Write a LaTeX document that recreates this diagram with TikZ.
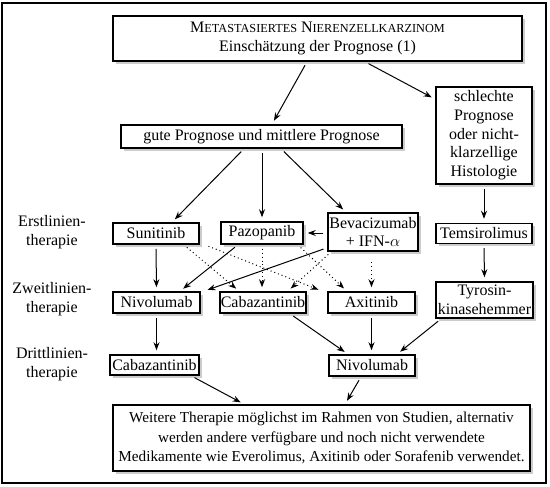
\documentclass[tikz,border=0pt]{standalone}
\usepackage{fontspec}
\setmainfont{Liberation Serif}
\usetikzlibrary{arrows.meta,calc,shadows}

\newcommand{\mysc}[2]{#1{\fontsize{9.2}{11}\selectfont #2}}

\begin{document}
\begin{tikzpicture}[x=0.75pt,y=-0.75pt,font=\fontsize{12}{14}\selectfont,
    box/.style={draw,line width=1.1pt,fill=white,inner sep=0pt,align=center,
      drop shadow={shadow xshift=2pt,shadow yshift=-2pt,opacity=0.4}},
    arr/.style={-{Stealth[length=6pt,width=4.5pt]},line width=0.75pt,shorten <=3pt,shorten >=3pt},
    dotarr/.style={arr,dash pattern=on 0.75pt off 2.2pt},
    rowlabel/.style={align=center}]
    \useasboundingbox (0,0) rectangle (550,486);
    \draw[line width=1.3pt] (2,3) rectangle (546,483);

    % prognosis
    \node[box,minimum width=306.8pt,minimum height=33.8pt] (title) at (317.5,38.5) {\mysc{M}{ETASTASIERTES} \mysc{N}{IERENZELLKARZINOM}\\Einschätzung der Prognose (1)};
    \node[box,minimum width=210.8pt,minimum height=17.3pt] (goodprog) at (261.5,136.5) {gute Prognose und mittlere Prognose};
    \node[box,minimum width=72pt,minimum height=72.8pt] (badprog) at (484,135.5) {schlechte\\Prognose\\oder nicht-\\klarzellige\\Histologie};

    % row labels
    \node[rowlabel] (lblfirst) at (52,232) {Erstlinien-\\therapie};
    \node[rowlabel] (lblsecond) at (52,299) {Zweitlinien-\\therapie};
    \node[rowlabel] (lblthird) at (52,364) {Drittlinien-\\therapie};

    % first line
    \node[box,minimum width=64.5pt,minimum height=15.8pt] (suni) at (156,233.5) {Sunitinib};
    \node[box,minimum width=61.5pt,minimum height=16.5pt] (pazo) at (262,233) {Pazopanib};
    \node[box,minimum width=67.5pt,minimum height=28.5pt] (beva) at (373,232) {Bevacizumab\\+ IFN-$\alpha$};
    \node[box,minimum width=72pt,minimum height=15pt] (temsi) at (484,233.5) {Temsirolimus};

    % second line
    \node[box,minimum width=65.3pt,minimum height=15.8pt] (nivo2) at (156.5,302.5) {Nivolumab};
    \node[box,minimum width=64.5pt,minimum height=15.8pt] (caba2) at (263,302.5) {Cabazantinib};
    \node[box,minimum width=65.3pt,minimum height=15.8pt] (axi) at (371.5,302.5) {Axitinib};
    \node[box,minimum width=72.8pt,minimum height=27pt] (tki) at (484.5,300) {Tyrosin-\\kinasehemmer};

    % third line
    \node[box,minimum width=66.8pt,minimum height=15pt] (caba3) at (154.5,365) {Cabazantinib};
    \node[box,minimum width=64.5pt,minimum height=15.8pt] (nivo3) at (372,365.5) {Nivolumab};

    \node[box,minimum width=312.8pt,minimum height=49.5pt,font=\fontsize{11.4}{14.5}\selectfont] (further) at (321.5,438) {Weitere Therapie möglichst im Rahmen von Studien, alternativ\\werden andere verfügbare und noch nicht verwendete\\Medikamente wie Everolimus, Axitinib oder Sorafenib verwendet.};

    % connectors
    \draw[arr] ($(title.south)+(-10.5,0)$) -- ($(goodprog.north)+(10.5,0)$);
    \draw[arr] ($(title.south)+(47.5,0)$) -- ($(badprog.north west)+(0,13)$);
    \draw[arr] ($(goodprog.south)+(-17.5,0)$) -- ($(suni.north)+(16,0)$);
    \draw[arr] (goodprog.south -| pazo.north) -- (pazo.north);
    \draw[arr] ($(goodprog.south)+(19.5,0)$) -- ($(beva.north)+(-27,0)$);
    \draw[arr] (badprog.south) -- (temsi.north);
    \draw[arr] (temsi.south) -- (tki.north);
    \draw[arr] (beva.west |- pazo.east) -- (pazo.east);

    \draw[arr] (suni.south) -- (nivo2.north);
    \draw[arr] ($(pazo.south)+(-24,0)$) -- ($(nivo2.north)+(23.5,0)$);
    \draw[arr] ($(beva.south west)+(0,-4)$) -- ($(nivo2.north east)+(3,0)$);
    \draw[dotarr] ($(suni.south east)+(-16,0)$) -- ($(caba2.north west)+(20,0)$);
    \draw[dotarr] ($(suni.south east)+(5,0)$) -- ($(axi.north west)+(-5,0)$);
    \draw[dotarr] (pazo.south) -- (pazo.south |- caba2.north);
    \draw[dotarr] ($(pazo.south east)+(-6,0)$) -- ($(axi.north)+(-24.5,0)$);
    \draw[dotarr] ($(beva.south west)+(4,0)$) -- ($(caba2.north east)+(-19,0)$);
    \draw[dotarr,shorten <=8pt] (beva.south -| axi.north) -- (axi.north);

    \draw[arr] (nivo2.south) -- (nivo2.south |- caba3.north);
    \draw[arr] ($(caba2.south)+(27,0)$) -- ($(nivo3.north)+(-24,0)$);
    \draw[arr] (axi.south) -- (axi.south |- nivo3.north);
    \draw[arr] ($(tki.south west)+(6,0)$) -- ($(nivo3.north)+(25,0)$);

    \draw[arr] ($(caba3.south)+(36.5,0)$) -- ($(further.north west)+(132,0)$);
    \draw[arr] ($(nivo3.south)+(-11,0)$) -- ($(further.north)+(23.5,0)$);
\end{tikzpicture}
\end{document}
